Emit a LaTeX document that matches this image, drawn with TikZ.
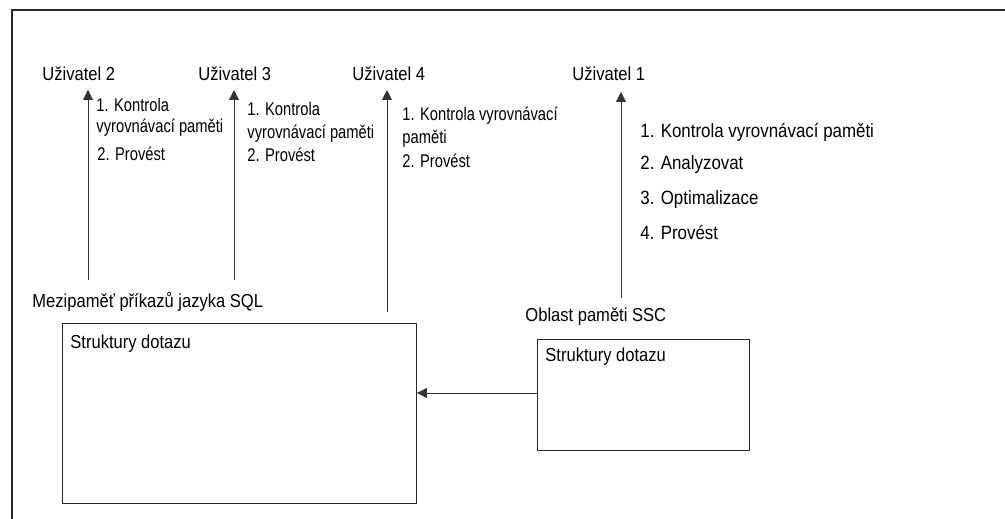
\documentclass[tikz,border=0pt]{standalone}
\usepackage{fontspec}
\setmainfont[FakeStretch=0.88]{Liberation Sans}
\newfontfamily\narrowsans[FakeStretch=0.8]{Liberation Sans}
\usetikzlibrary{arrows.meta}
\begin{document}
\begin{tikzpicture}[x=1pt,y=-1pt,
  line width=0.9pt, draw=black!85,
  txt/.style={anchor=base west, inner sep=0pt, font=\fontsize{18.8}{22}\selectfont},
  steptxt/.style={anchor=base west, inner sep=0pt, font=\narrowsans\fontsize{18.4}{22}\selectfont},
  listtxt/.style={anchor=base west, inner sep=0pt, font=\fontsize{19.2}{22}\selectfont},
  flow/.style={draw=black!80, line width=0.9pt, -{Triangle[length=10pt,width=10pt]}},
  boxed/.style={draw=black!85, line width=0.9pt, inner sep=0pt, anchor=north west}]
\useasboundingbox (0,0) rectangle (1005,519);
% outer frame (extends past the page on the right and bottom)
\draw[line width=1.2pt, black!85] (12,600) -- (12,10) -- (1100,10);

% user labels
\node[txt] (u2) at (42,81) {Uživatel 2};
\node[txt] (u3) at (198,81) {Uživatel 3};
\node[txt] (u4) at (352,81) {Uživatel 4};
\node[txt] (u1) at (572,81) {Uživatel 1};

% arrow tips and feet
\coordinate (t2) at (88,90);  \coordinate (f2) at (88,280);
\coordinate (t3) at (234,90); \coordinate (f3) at (234,280);
\coordinate (t4) at (387,90); \coordinate (f4) at (387,312);
\coordinate (t1) at (621,92); \coordinate (f1) at (621,298);
\draw[flow] (f2) -- (t2);
\draw[flow] (f3) -- (t3);
\draw[flow] (f4) -- (t4);
\draw[flow] (f1) -- (t1);

% steps for user 2
\node[steptxt] (s2a) at (96,111) {1. Kontrola};
\node[steptxt] (s2b) at (96,132) {vyrovnávací paměti};
\node[steptxt] (s2c) at (97,160) {2. Provést};
% steps for user 3
\node[steptxt] (s3a) at (247,116) {1. Kontrola};
\node[steptxt] (s3b) at (247,139) {vyrovnávací paměti};
\node[steptxt] (s3c) at (247,161) {2. Provést};
% steps for user 4
\node[steptxt] (s4a) at (402,121) {1. Kontrola vyrovnávací};
\node[steptxt] (s4b) at (402,143) {paměti};
\node[steptxt] (s4c) at (402,167) {2. Provést};
% steps for user 1
\node[listtxt] (s1a) at (640,137) {1. Kontrola vyrovnávací paměti};
\node[listtxt] (s1b) at (640,169) {2. Analyzovat};
\node[listtxt] (s1c) at (640,204) {3. Optimalizace};
\node[listtxt] (s1d) at (640,239) {4. Provést};

% SQL statement cache
\node[txt] (sqlcap) at (32,307) {Mezipaměť příkazů jazyka SQL};
\node[boxed, minimum width=354pt, minimum height=180pt] (sql) at (62,323) {};
\node[txt] (sqltxt) at (70,348) {Struktury dotazu};

% SSC memory area
\node[txt] (ssccap) at (525,321) {Oblast paměti SSC};
\node[boxed, minimum width=212pt, minimum height=111pt] (ssc) at (537,339) {};
\node[txt] (ssctxt) at (545,361) {Struktury dotazu};

\draw[flow] (ssc.west |- 0,393) -- (sql.east |- 0,393);
\end{tikzpicture}
\end{document}
